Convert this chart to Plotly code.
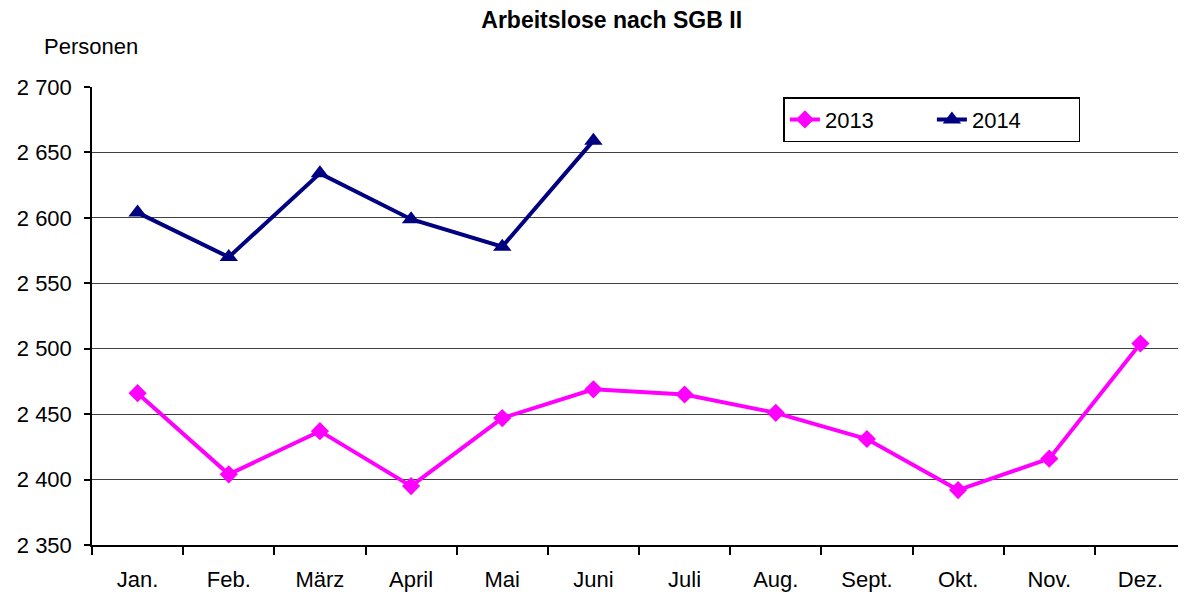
import plotly.graph_objects as go

months = ["Jan.", "Feb.", "März", "April", "Mai", "Juni", "Juli", "Aug.", "Sept.", "Okt.", "Nov.", "Dez."]
values_2013 = [2466, 2404, 2437, 2395, 2447, 2469, 2465, 2451, 2431, 2392, 2416, 2504]
values_2014 = [2604, 2570, 2634, 2599, 2578, 2659]
months_2014 = months[:len(values_2014)]

font = "Liberation Sans, Arial, sans-serif"

fig = go.Figure()
fig.add_trace(go.Scatter(x=months, y=values_2013, name="2013", mode="lines+markers",
                         line=dict(color="#FF00FF", width=4),
                         marker=dict(symbol="diamond", size=14, color="#FF00FF")))
fig.add_trace(go.Scatter(x=months_2014, y=values_2014, name="2014", mode="lines+markers",
                         line=dict(color="#000080", width=4),
                         marker=dict(symbol="triangle-up", size=16, color="#000080")))

fig.update_layout(
    width=1186, height=596,
    margin=dict(l=84, r=8, t=79, b=59),
    paper_bgcolor="white", plot_bgcolor="white",
    separators=", ",
    font=dict(family=font, size=22, color="black"),
    title=dict(text="<b>Arbeitslose nach SGB II</b>", x=0.509, xanchor="center",
               y=0.98, yanchor="middle", font=dict(size=23, family=font)),
    showlegend=True,
    legend=dict(orientation="h", x=0.632, y=0.978, xanchor="left", yanchor="top",
                bordercolor="black", borderwidth=1.5, bgcolor="white",
                font=dict(size=22), entrywidth=102, entrywidthmode="pixels"),
    xaxis=dict(type="category", range=[-0.5, 11.5], tickson="boundaries",
               ticks="outside", ticklen=8, tickwidth=1.5, tickcolor="black",
               showline=True, linecolor="black", linewidth=1.5, showgrid=False,
               ticklabelstandoff=14, tickfont=dict(size=22)),
    yaxis=dict(range=[2350, 2700], dtick=50, tickformat=",d",
               ticks="outside", ticklen=6, tickwidth=1.5, tickcolor="black",
               showline=True, linecolor="black", linewidth=1.5,
               showgrid=True, gridcolor="#404040", gridwidth=1, zeroline=False,
               ticklabelstandoff=8, tickfont=dict(size=22)),
    annotations=[dict(text="Personen", xref="paper", yref="paper", x=-0.0457, y=1.0895,
                      xanchor="left", yanchor="middle", showarrow=False,
                      font=dict(size=22))],
)

fig.write_html("out.html")
